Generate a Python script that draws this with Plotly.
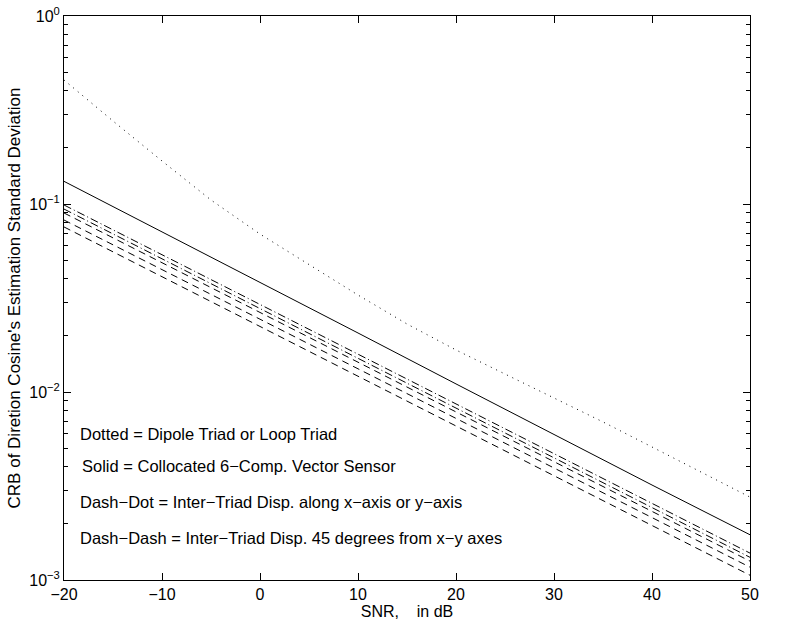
import plotly.graph_objects as go

snr_dotted = [-20, -15, -10, -5, 0, 5, 10, 15, 20, 25, 30, 35, 40, 45, 50]
crb_dotted = [0.4566, 0.2763, 0.1694, 0.1050, 0.0692, 0.0474, 0.0328, 0.0230,
              0.01673, 0.01246, 0.00929, 0.00693, 0.00510, 0.00375, 0.00276]

snr = [-20, -10, 0, 10, 20, 30, 40, 50]
crb_solid = [0.132, 0.0712, 0.0383, 0.0206, 0.01104, 0.00593, 0.00320, 0.00174]
crb_dashdot_1 = [0.0988, 0.0537, 0.0292, 0.0159, 0.00865, 0.00470, 0.00256, 0.00139]
crb_dashdot_2 = [0.0940, 0.0511, 0.0278, 0.0151, 0.00822, 0.00447, 0.00243, 0.00132]
crb_dashed_1 = [0.0896, 0.0487, 0.0265, 0.0144, 0.00783, 0.00426, 0.00232, 0.00126]
crb_dashed_2 = [0.0822, 0.0448, 0.0244, 0.0133, 0.00723, 0.00394, 0.00215, 0.00117]
crb_dashed_3 = [0.0755, 0.0410, 0.0223, 0.0121, 0.00660, 0.00359, 0.00195, 0.00106]

x_ticks = [-20, -10, 0, 10, 20, 30, 40, 50]
y_ticks = [1e-3, 1e-2, 1e-1, 1]
y_ticktext = ["10<sup>−3</sup>", "10<sup>−2</sup>", "10<sup>−1</sup>", "10<sup>0</sup>"]
y_minor = [m * 10.0 ** e for e in (-3, -2, -1) for m in range(2, 10)]

legend_lines = [
    "Dotted = Dipole Triad or Loop Triad",
    "Solid = Collocated 6−Comp. Vector Sensor",
    "Dash−Dot = Inter−Triad Disp. along x−axis or y−axis",
    "Dash−Dash = Inter−Triad Disp. 45 degrees from x−y axes",
]

FONT = "Liberation Sans, Arial, Helvetica, sans-serif"
fig = go.Figure()

def add(x, y, dash):
    fig.add_trace(go.Scatter(x=x, y=y, mode="lines",
                             line=dict(color="black", width=1, dash=dash),
                             showlegend=False, hoverinfo="skip"))

add(snr_dotted, crb_dotted, "1px,5px")
add(snr, crb_solid, "solid")
add(snr, crb_dashdot_1, "8px,3px,1px,3px")
add(snr, crb_dashdot_2, "8px,3px,1px,3px")
add(snr, crb_dashed_1, "7px,5px")
add(snr, crb_dashed_2, "7px,5px")
add(snr, crb_dashed_3, "7px,5px")

W, H = 790, 630
L, R, T, B = 64, 750, 16, 580  # plot-area edges in window pixels
note_y = [434, 466, 502, 538]
note_x = [78, 80, 78, 78]
for txt, xp, yp in zip(legend_lines, note_x, note_y):
    fig.add_annotation(text=txt, xref="paper", yref="paper",
                       x=(xp - L) / (R - L), y=(B - yp) / (B - T),
                       xanchor="left", yanchor="middle", showarrow=False,
                       font=dict(family=FONT, size=16.5, color="black"))

fig.update_layout(
    width=W, height=H,
    margin=dict(l=L, r=W - R, t=T, b=H - B),
    paper_bgcolor="white", plot_bgcolor="white",
    font=dict(family=FONT, size=16, color="black"),
    xaxis=dict(range=[-20, 50], tickvals=x_ticks, ticks="inside", ticklen=7,
               showline=True, linecolor="black", linewidth=1, mirror="allticks",
               showgrid=False, zeroline=False, tickcolor="black", automargin=False,
               tickfont=dict(size=16), ticklabeloverflow="allow",
               title=dict(text="SNR,&nbsp;&nbsp;&nbsp; in dB", standoff=0,
                          font=dict(size=16))),
    yaxis=dict(type="log", range=[-3, 0.00001], tickvals=y_ticks, ticktext=y_ticktext,
               ticks="inside", ticklen=7, tickcolor="black", automargin=False,
               tickfont=dict(size=16), ticklabeloverflow="allow",
               showline=True, linecolor="black", linewidth=1, mirror="allticks",
               showgrid=False, zeroline=False,
               minor=dict(tickvals=y_minor, ticks="inside", ticklen=4,
                          tickcolor="black", showgrid=False),
               title=dict(text="CRB of Diretion Cosine's Estimation Standard Deviation",
                          standoff=4, font=dict(size=17))),
)

fig.write_html("out.html",
               config={"displayModeBar": False},
               post_script="document.body.style.margin='0';"
                           "document.body.style.overflow='hidden';")
